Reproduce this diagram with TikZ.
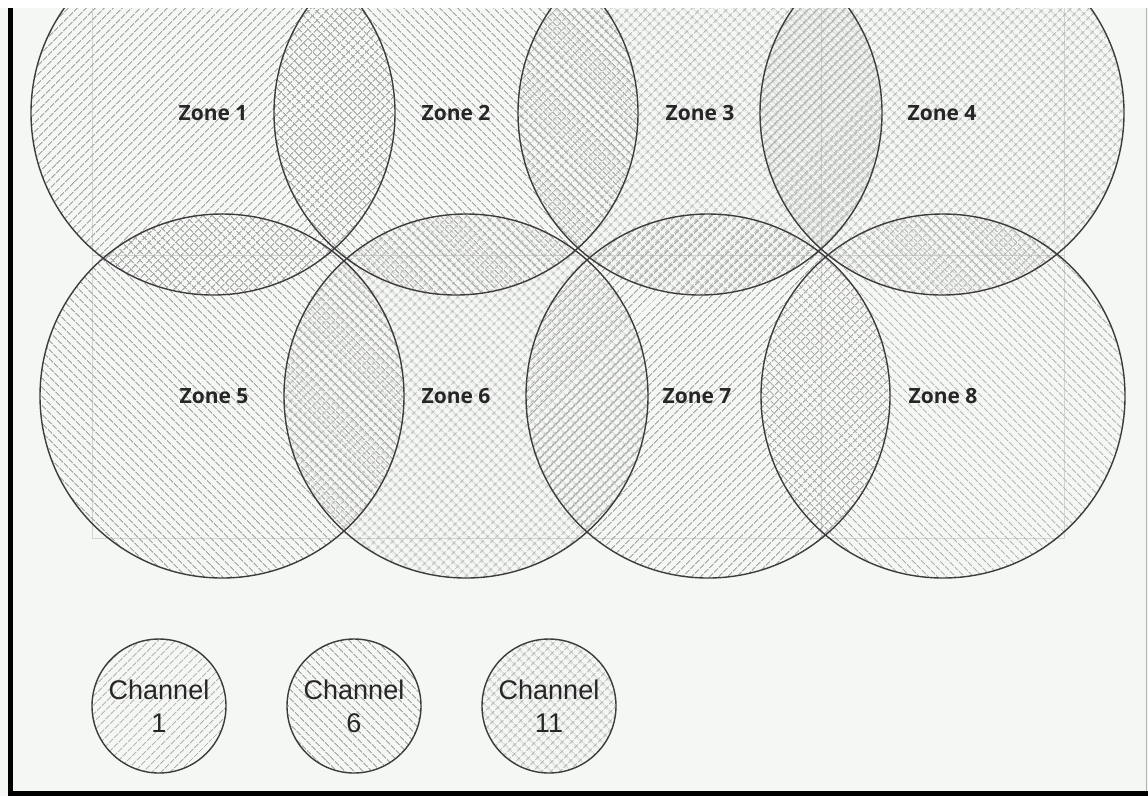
\documentclass[tikz,border=0pt]{standalone}
\usepackage{fontspec}
\setmainfont{Liberation Sans}
\newfontfamily\zonefont{Open Sans}
\usepackage{tikz}
\usetikzlibrary{patterns.meta}

\definecolor{paper}{HTML}{F5F7F4}
\definecolor{hatchgray}{HTML}{A8A8A8}
\definecolor{ringgray}{HTML}{3C3C3C}
\definecolor{gridgray}{HTML}{D2D4D2}

\begin{document}
\begin{tikzpicture}[x=1pt,y=-1pt,
	ch1/.style={pattern={Lines[angle=45,distance=6.4pt,line width=1.1pt]},pattern color=hatchgray},
	ch6/.style={pattern={Lines[angle=-45,distance=6.4pt,line width=1.1pt]},pattern color=hatchgray},
	ch11/.style={pattern={Hatch[angle=45,distance=6.4pt,line width=0.9pt]},pattern color=hatchgray},
	ring/.style={draw=ringgray,line width=1.4pt},
	zonelabel/.style={font=\zonefont\bfseries\fontsize{21}{25}\selectfont,text=black!85},
	legend/.style={circle,ring,minimum size=134pt,inner sep=0pt,align=center,
		font=\fontsize{27}{33}\selectfont,text=black!85}]
\useasboundingbox (0,0) rectangle (1148,796);
\fill[white] (0,0) rectangle (1148,8);
\fill[paper] (0,8) rectangle (1148,796);

\begin{scope}
	\clip (0,8) rectangle (1148,790);
	\draw[gridgray,line width=0.8pt] (92,8) -- (92,538) -- (1064,538) -- (1064,8)
		(92,255) -- (1064,255) (821,8) -- (821,538);
	\foreach \n/\x/\y/\ch in {1/213/113/ch1,2/456/113/ch6,3/700/113/ch11,4/942/113/ch11,
		5/222/396/ch6,6/466/396/ch11,7/708/396/ch1,8/943/396/ch6} {
		\coordinate (c\n) at (\x,\y);
		\path[\ch] (c\n) circle[radius=182pt];
	}
	\foreach \n in {1,...,8}
		\draw[ring] (c\n) circle[radius=182pt];
\end{scope}

\foreach \n/\x/\y in {1/213/113,2/456/113,3/700/113,4/942/113,
	5/214/396,6/456/396,7/697/396,8/943/396}
	\node[zonelabel] (z\n) at (\x,\y) {Zone \n};

\node[legend,ch1] (l1) at (159,706) {Channel\\1};
\node[legend,ch6] (l6) at (354,706) {Channel\\6};
\node[legend,ch11] (l11) at (549,706) {Channel\\11};

\draw[line width=5pt] (10.5,8) -- (10.5,796);
\draw[line width=5pt] (8,793.5) -- (1148,793.5);
\draw[gray!60,line width=1pt] (1146.5,8) -- (1146.5,791);
\end{tikzpicture}
\end{document}
